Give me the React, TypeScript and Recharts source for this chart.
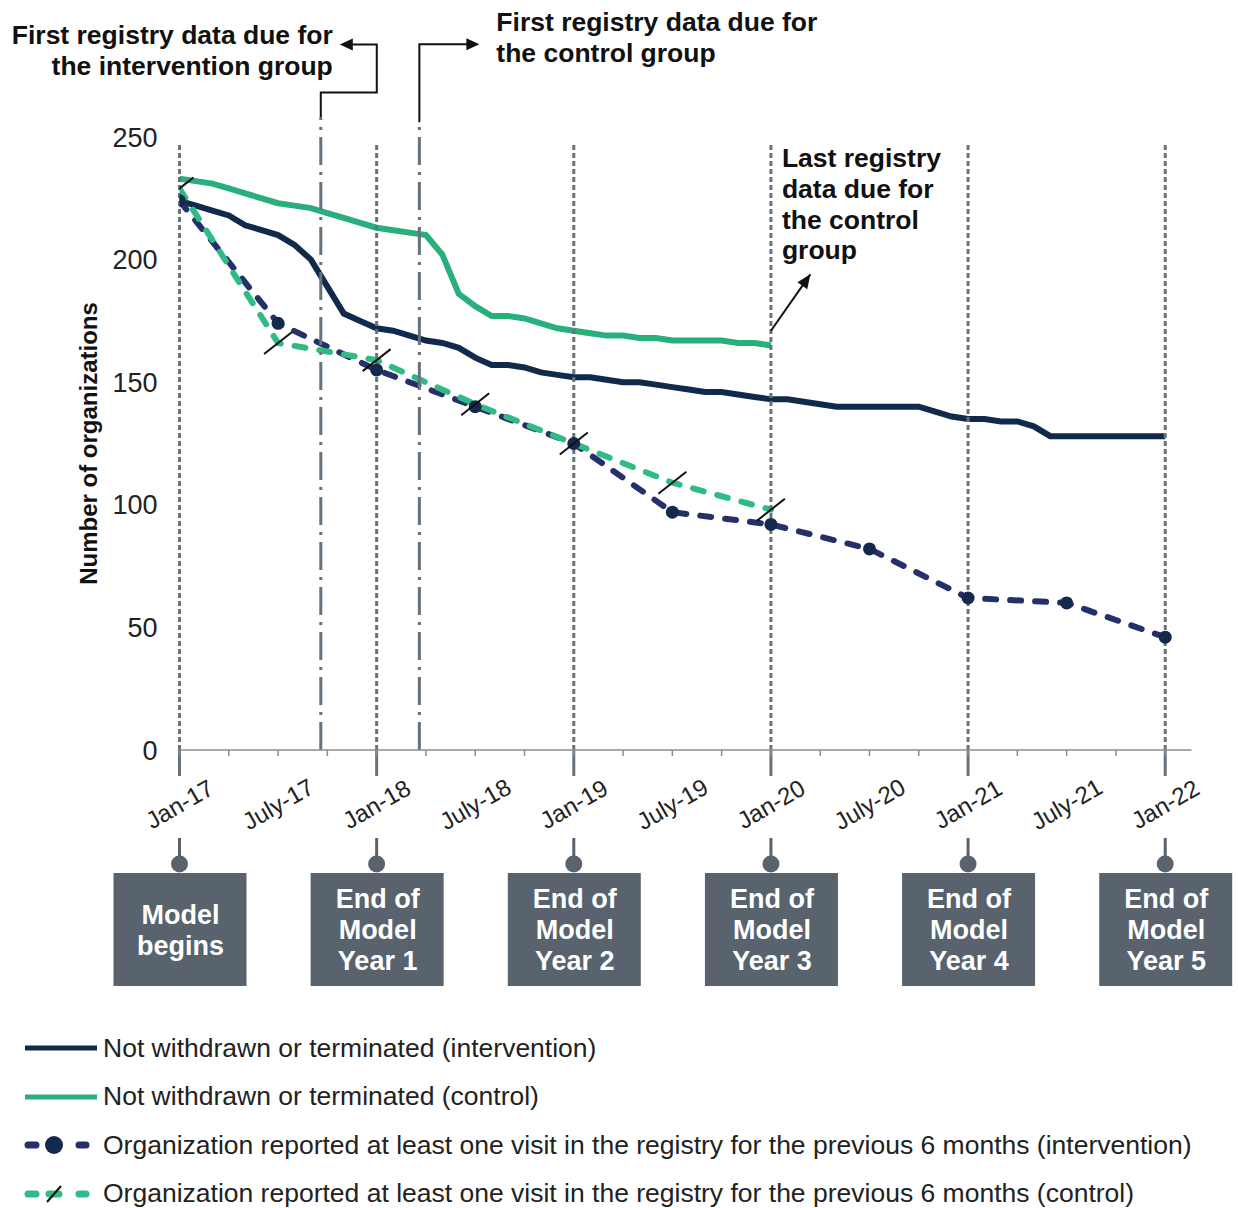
import React from "react";
import { LineChart, Line, XAxis, YAxis, ReferenceLine } from "recharts";

const FONT = '"Liberation Sans", Arial, Helvetica, sans-serif';

const monthLabels = ["Jan-17", "July-17", "Jan-18", "July-18", "Jan-19", "July-19", "Jan-20", "July-20", "Jan-21", "July-21", "Jan-22"];
const yTicks = [0, 50, 100, 150, 200, 250];
const xTicks = Array.from({ length: 21 }, (_, i) => i * 3);

// monthly, Jan-17 .. Jan-22
const interventionActive = [
  224, 222, 220, 218, 214, 212, 210, 206, 200, 189, 178,
  175, 172, 171, 169, 167, 166, 164, 160, 157, 157,
  156, 154, 153, 152, 152, 151, 150, 150, 149, 148,
  147, 146, 146, 145, 144, 143, 143, 142, 141, 140,
  140, 140, 140, 140, 140, 138, 136, 135, 135, 134,
  134, 132, 128, 128, 128, 128, 128, 128, 128, 128,
];
// monthly, Jan-17 .. Jan-20
const controlActive = [
  233, 232, 231, 229, 227, 225, 223, 222, 221, 219, 217,
  215, 213, 212, 211, 210, 202, 186, 181, 177, 177,
  176, 174, 172, 171, 170, 169, 169, 168, 168, 167,
  167, 167, 167, 166, 166, 165,
];
// every 6 months
const interventionVisits = [224, 174, 155, 140, 125, 97, 92, 82, 62, 60, 46];
const controlVisits = [229, 166, 159, 141, 125, 109, 98];

const milestoneMonths = [0, 12, 24, 36, 48, 60];
const milestoneText = [
  ["Model", "begins"],
  ["End of", "Model", "Year 1"],
  ["End of", "Model", "Year 2"],
  ["End of", "Model", "Year 3"],
  ["End of", "Model", "Year 4"],
  ["End of", "Model", "Year 5"],
];
const firstRegistryIntervention = 8.6;
const firstRegistryControl = 14.6;

const data = interventionActive.map((v, m) => ({
  m,
  intActive: v,
  ctlActive: m < controlActive.length ? controlActive[m] : null,
  intVisit: m % 6 === 0 ? interventionVisits[m / 6] : null,
  ctlVisit: m % 6 === 0 && m / 6 < controlVisits.length ? controlVisits[m / 6] : null,
}));

const NAVY = "#112a4b";
const GREEN = "#29af7b";
const NAVY_DASH = "#25306b";
const GREEN_DASH = "#30bb84";
const GRAY = "#66727c";
const BOX = "#58636d";
const NOTE_SIZE = 26.5;

function head(x1: number, y1: number, x2: number, y2: number, len = 13, w = 6) {
  const a = Math.atan2(y2 - y1, x2 - x1);
  const bx = x2 - len * Math.cos(a);
  const by = y2 - len * Math.sin(a);
  const px = -Math.sin(a) * w;
  const py = Math.cos(a) * w;
  return `${x2},${y2} ${bx + px},${by + py} ${bx - px},${by - py}`;
}

function MonthTick(props: any) {
  const { x, y, payload } = props;
  const m = payload.value;
  if (m % 6 !== 0) return <g />;
  const cy = y + 46;
  return (
    <text x={x} y={cy} textAnchor="middle" dominantBaseline="central" transform={`rotate(-30 ${x} ${cy})`} fontSize={24} fill="#222">
      {monthLabels[m / 6]}
    </text>
  );
}

function Milestone(props: any) {
  const { viewBox, lines } = props;
  if (!viewBox) return null;
  const x = viewBox.x;
  const base = viewBox.y + viewBox.height;
  const first = base + 123 + 56.5 - ((lines.length - 1) * 31) / 2 + 9.5;
  return (
    <g>
      <line x1={x} y1={base} x2={x} y2={base + 26} stroke={GRAY} strokeWidth={3} />
      <line x1={x} y1={base + 88} x2={x} y2={base + 114} stroke={BOX} strokeWidth={3} />
      <circle cx={x} cy={base + 114} r={8.5} fill={BOX} />
      <rect x={x - 66} y={base + 123} width={133} height={113} fill={BOX} />
      {lines.map((t: string, i: number) => (
        <text key={t + i} x={x + 1} y={first + i * 31} textAnchor="middle" fill="#fff" fontSize={27} fontWeight="bold">
          {t}
        </text>
      ))}
    </g>
  );
}

function InterventionNote(props: any) {
  const { viewBox } = props;
  if (!viewBox) return null;
  const x = viewBox.x;
  const top = viewBox.y;
  const elbow = top - 25;
  const hy = top - 73;
  return (
    <g>
      <polyline points={`${x},${top} ${x},${elbow} ${x + 56},${elbow} ${x + 56},${hy} ${x + 28},${hy}`} fill="none" stroke="#111" strokeWidth={2} />
      <polygon points={head(x + 56, hy, x + 19, hy)} fill="#111" />
      <text x={x + 12} y={hy} textAnchor="end" fontSize={NOTE_SIZE} fontWeight="bold" fill="#111">First registry data due for</text>
      <text x={x + 12} y={hy + 31} textAnchor="end" fontSize={NOTE_SIZE} fontWeight="bold" fill="#111">the intervention group</text>
    </g>
  );
}

function ControlNote(props: any) {
  const { viewBox } = props;
  if (!viewBox) return null;
  const x = viewBox.x;
  const top = viewBox.y;
  const hy = top - 78;
  return (
    <g>
      <polyline points={`${x},${top} ${x},${hy} ${x + 50},${hy}`} fill="none" stroke="#111" strokeWidth={2} />
      <polygon points={head(x, hy, x + 60, hy)} fill="#111" />
      <text x={x + 77} y={top - 91} fontSize={NOTE_SIZE} fontWeight="bold" fill="#111">First registry data due for</text>
      <text x={x + 77} y={top - 60} fontSize={NOTE_SIZE} fontWeight="bold" fill="#111">the control group</text>
    </g>
  );
}

function LastRegistryNote(props: any) {
  const { viewBox } = props;
  if (!viewBox) return null;
  const x = viewBox.x;
  const tipY = viewBox.y;
  const tipX = x + viewBox.width;
  const rows = ["Last registry", "data due for", "the control", "group"];
  return (
    <g>
      <polygon points={head(x, tipY + viewBox.height, tipX, tipY, 14, 6)} fill="#111" />
      {rows.map((t, i) => (
        <text key={t} x={x + 11} y={tipY - 107 + i * 30.7} fontSize={NOTE_SIZE} fontWeight="bold" fill="#111">
          {t}
        </text>
      ))}
    </g>
  );
}

function visitDot(props: any) {
  const { cx, cy, index } = props;
  if (cy == null || cx == null) return <g key={index} />;
  return <circle key={index} cx={cx} cy={cy} r={6.5} fill="#15294f" />;
}

function slashDot(props: any) {
  const { cx, cy, index } = props;
  if (cy == null || cx == null) return <g key={index} />;
  return <line key={index} x1={cx - 14} y1={cy + 11} x2={cx + 14} y2={cy - 11} stroke="#111" strokeWidth={2} />;
}

const legendRows = [
  { label: "Not withdrawn or terminated (intervention)", kind: "solid", color: NAVY },
  { label: "Not withdrawn or terminated (control)", kind: "solid", color: GREEN },
  { label: "Organization reported at least one visit in the registry for the previous 6 months (intervention)", kind: "dot", color: NAVY_DASH },
  { label: "Organization reported at least one visit in the registry for the previous 6 months (control)", kind: "slash", color: GREEN_DASH },
];

function LegendSymbol({ kind, color }: { kind: string; color: string }) {
  return (
    <svg width={80} height={24} style={{ display: "block" }}>
      {kind === "solid" ? (
        <line x1={5} y1={12} x2={77} y2={12} stroke={color} strokeWidth={5} />
      ) : (
        <g>
          <line x1={8} y1={12} x2={16} y2={12} stroke={color} strokeWidth={7} strokeLinecap="round" />
          <line x1={59} y1={12} x2={66} y2={12} stroke={color} strokeWidth={7} strokeLinecap="round" />
          {kind === "dot" ? (
            <circle cx={34} cy={12} r={9} fill="#15294f" />
          ) : (
            <g>
              <line x1={29} y1={12} x2={39} y2={12} stroke={color} strokeWidth={7} strokeLinecap="round" />
              <line x1={27} y1={20} x2={41} y2={4} stroke="#111" strokeWidth={2} />
            </g>
          )}
        </g>
      )}
    </svg>
  );
}

export default function App() {
  return (
    <div style={{ position: "absolute", left: 0, top: 0, width: 1238, height: 1208, background: "#fff", fontFamily: FONT, overflow: "hidden" }}>
      <LineChart width={1238} height={1000} data={data} margin={{ top: 137, right: 46.5, left: 80, bottom: 190 }}>
        <XAxis
          type="number"
          dataKey="m"
          domain={[0, 61.6]}
          ticks={xTicks}
          interval={0}
          allowDataOverflow
          height={60}
          tickSize={6}
          axisLine={{ stroke: "#8c8c8c", strokeWidth: 1.5 }}
          tickLine={{ stroke: "#8c8c8c", strokeWidth: 1.5 }}
          tick={<MonthTick />}
        />
        <YAxis
          type="number"
          domain={[0, 250]}
          ticks={yTicks}
          width={99.5}
          axisLine={false}
          tickLine={false}
          tickSize={6}
          tickMargin={16}
          tick={{ fontSize: 27, fill: "#222" }}
          label={{
            value: "Number of organizations",
            angle: -90,
            position: "insideLeft",
            offset: 8,
            style: { textAnchor: "middle", fontSize: 24, fontWeight: "bold", fill: "#111" },
          }}
        />
        <Line type="linear" dataKey="intActive" stroke={NAVY} strokeWidth={6} dot={false} activeDot={false} isAnimationActive={false} />
        <Line type="linear" dataKey="ctlActive" stroke={GREEN} strokeWidth={6} dot={false} activeDot={false} isAnimationActive={false} />
        <Line
          type="linear"
          dataKey="intVisit"
          stroke={NAVY_DASH}
          strokeWidth={6}
          strokeDasharray="11 14"
          strokeLinecap="round"
          connectNulls
          dot={visitDot}
          activeDot={false}
          isAnimationActive={false}
        />
        <Line
          type="linear"
          dataKey="ctlVisit"
          stroke={GREEN_DASH}
          strokeWidth={6}
          strokeDasharray="11 14"
          strokeLinecap="round"
          connectNulls
          dot={slashDot}
          activeDot={false}
          isAnimationActive={false}
        />
        {milestoneMonths.map((m, i) => (
          <ReferenceLine
            key={"ms" + m}
            segment={[{ x: m, y: 0 }, { x: m, y: 248 }]}
            stroke={GRAY}
            strokeWidth={3}
            strokeDasharray="5 3"
            label={<Milestone lines={milestoneText[i]} />}
          />
        ))}
        <ReferenceLine
          segment={[{ x: firstRegistryIntervention, y: 0 }, { x: firstRegistryIntervention, y: 258 }]}
          ifOverflow="visible"
          stroke={GRAY}
          strokeWidth={3}
          strokeDasharray="28 7 3 7"
          label={<InterventionNote />}
        />
        <ReferenceLine
          segment={[{ x: firstRegistryControl, y: 0 }, { x: firstRegistryControl, y: 256 }]}
          ifOverflow="visible"
          stroke={GRAY}
          strokeWidth={3}
          strokeDasharray="28 7 3 7"
          label={<ControlNote />}
        />
        <ReferenceLine
          segment={[{ x: 36, y: 171 }, { x: 38.4, y: 194 }]}
          stroke="#111"
          strokeWidth={2}
          label={<LastRegistryNote />}
        />
      </LineChart>
      <div style={{ position: "absolute", left: 20, top: 1024, width: 1218 }}>
        {legendRows.map((r) => (
          <div key={r.label} style={{ display: "flex", alignItems: "center", height: 48.5 }}>
            <LegendSymbol kind={r.kind} color={r.color} />
            <span style={{ fontSize: 26.5, color: "#222", whiteSpace: "nowrap", marginLeft: 3 }}>{r.label}</span>
          </div>
        ))}
      </div>
    </div>
  );
}
